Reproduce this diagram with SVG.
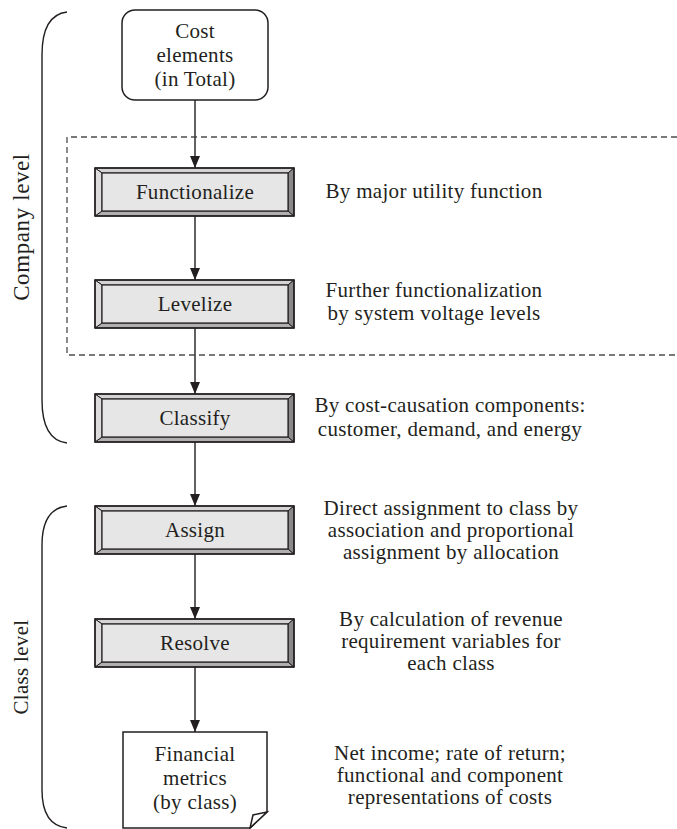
<svg xmlns="http://www.w3.org/2000/svg" xmlns:xlink="http://www.w3.org/1999/xlink" width="677" height="829" viewBox="0 0 677 829">
  <style>
    .t { font-family: 'Liberation Serif', 'Times New Roman', Tinos, 'DejaVu Serif', 'Noto Serif', serif; font-size: 21px; letter-spacing: 0.3px; fill: #231f20; text-anchor: middle; }
    .side { font-size: 23px; letter-spacing: 0.6px; }
    .ln { stroke: #3a3a3a; stroke-width: 1.6; fill: none; }
    .br { stroke: #231f20; stroke-width: 1.4; fill: none; }
    .dash { stroke: #4d4d4d; stroke-width: 1.3; fill: none; stroke-dasharray: 6 4; }
    .edge { stroke: #231f20; stroke-width: 1.5; fill: #ffffff; }
    .bv { stroke: #231f20; stroke-width: 1; }
  </style>
  <defs>
    <marker id="ah" viewBox="0 0 12 10" refX="12" refY="5" markerWidth="12" markerHeight="10" markerUnits="userSpaceOnUse" orient="auto">
      <path d="M0,0 L12,5 L0,10 Z" fill="#231f20"/>
    </marker>
    <g id="bevel">
      <polygon class="bv" points="0,0 199,0 193,5 7,5" fill="#d4d4d4"/>
      <polygon class="bv" points="0,48 199,48 193,43 7,43" fill="#b0b0b0"/>
      <polygon class="bv" points="0,0 7,5 7,43 0,48" fill="#dcdcdc"/>
      <polygon class="bv" points="199,0 193,5 193,43 199,48" fill="#8a8a8a"/>
      <rect x="7" y="5" width="186" height="38" fill="#e6e6e6" stroke="#231f20" stroke-width="1.2"/>
      <rect x="0" y="0" width="199" height="48" fill="none" stroke="#231f20" stroke-width="1.6"/>
    </g>
  </defs>

  <rect x="0" y="0" width="677" height="829" fill="#ffffff"/>

  <path class="dash" d="M677,137 H67 V355 H677"/>

  <g id="bracket-company">
    <path class="br" d="M67,12 C50,14 42,30 42,55 L42,400 C42,425 50,441 67,443"/>
    <text class="t side" font-family="Liberation Serif, serif" transform="translate(29,227) rotate(-90)">Company level</text>
  </g>
  <g id="bracket-class">
    <path class="br" d="M67,506 C50,508 42,522 42,545 L42,790 C42,812 50,826 67,828"/>
    <text class="t" font-family="Liberation Serif, serif" transform="translate(28,667) rotate(-90)">Class level</text>
  </g>

  <g id="connectors">
    <line class="ln" x1="195" y1="100" x2="195" y2="168" marker-end="url(#ah)"/>
    <line class="ln" x1="195" y1="216" x2="195" y2="280" marker-end="url(#ah)"/>
    <line class="ln" x1="195" y1="328" x2="195" y2="394" marker-end="url(#ah)"/>
    <line class="ln" x1="195" y1="442" x2="195" y2="506" marker-end="url(#ah)"/>
    <line class="ln" x1="195" y1="554" x2="195" y2="619" marker-end="url(#ah)"/>
    <line class="ln" x1="195" y1="667" x2="195" y2="732" marker-end="url(#ah)"/>
  </g>

  <g id="cost-elements">
    <rect class="edge" x="122" y="10" width="146" height="90" rx="13" ry="13"/>
    <text class="t" x="195" y="38">Cost</text>
    <text class="t" x="195" y="62">elements</text>
    <text class="t" x="195" y="86">(in Total)</text>
  </g>

  <g id="functionalize">
    <use xlink:href="#bevel" x="95" y="168"/>
    <text class="t" x="195" y="199">Functionalize</text>
  </g>
  <g id="functionalize-note">
    <text class="t" x="434" y="198">By major utility function</text>
  </g>

  <g id="levelize">
    <use xlink:href="#bevel" x="95" y="280"/>
    <text class="t" x="195" y="311">Levelize</text>
  </g>
  <g id="levelize-note">
    <text class="t" x="434" y="297">Further functionalization</text>
    <text class="t" x="434" y="320">by system voltage levels</text>
  </g>

  <g id="classify">
    <use xlink:href="#bevel" x="95" y="394"/>
    <text class="t" x="195" y="425">Classify</text>
  </g>
  <g id="classify-note">
    <text class="t" x="450" y="412">By cost-causation components:</text>
    <text class="t" x="450" y="436">customer, demand, and energy</text>
  </g>

  <g id="assign">
    <use xlink:href="#bevel" x="95" y="506"/>
    <text class="t" x="195" y="537">Assign</text>
  </g>
  <g id="assign-note">
    <text class="t" x="451" y="515">Direct assignment to class by</text>
    <text class="t" x="451" y="537">association and proportional</text>
    <text class="t" x="451" y="559">assignment by allocation</text>
  </g>

  <g id="resolve">
    <use xlink:href="#bevel" x="95" y="619"/>
    <text class="t" x="195" y="650">Resolve</text>
  </g>
  <g id="resolve-note">
    <text class="t" x="451" y="626">By calculation of revenue</text>
    <text class="t" x="451" y="648">requirement variables for</text>
    <text class="t" x="451" y="670">each class</text>
  </g>

  <g id="financial-metrics">
    <path class="edge" d="M123,732 H267 V812 L250,828 H123 Z"/>
    <path class="edge" d="M267,812 L253,815 L250,828 Z"/>
    <text class="t" x="195" y="761">Financial</text>
    <text class="t" x="195" y="785">metrics</text>
    <text class="t" x="195" y="809">(by class)</text>
  </g>
  <g id="financial-note">
    <text class="t" x="450" y="760">Net income; rate of return;</text>
    <text class="t" x="450" y="782">functional and component</text>
    <text class="t" x="450" y="804">representations of costs</text>
  </g>
</svg>
